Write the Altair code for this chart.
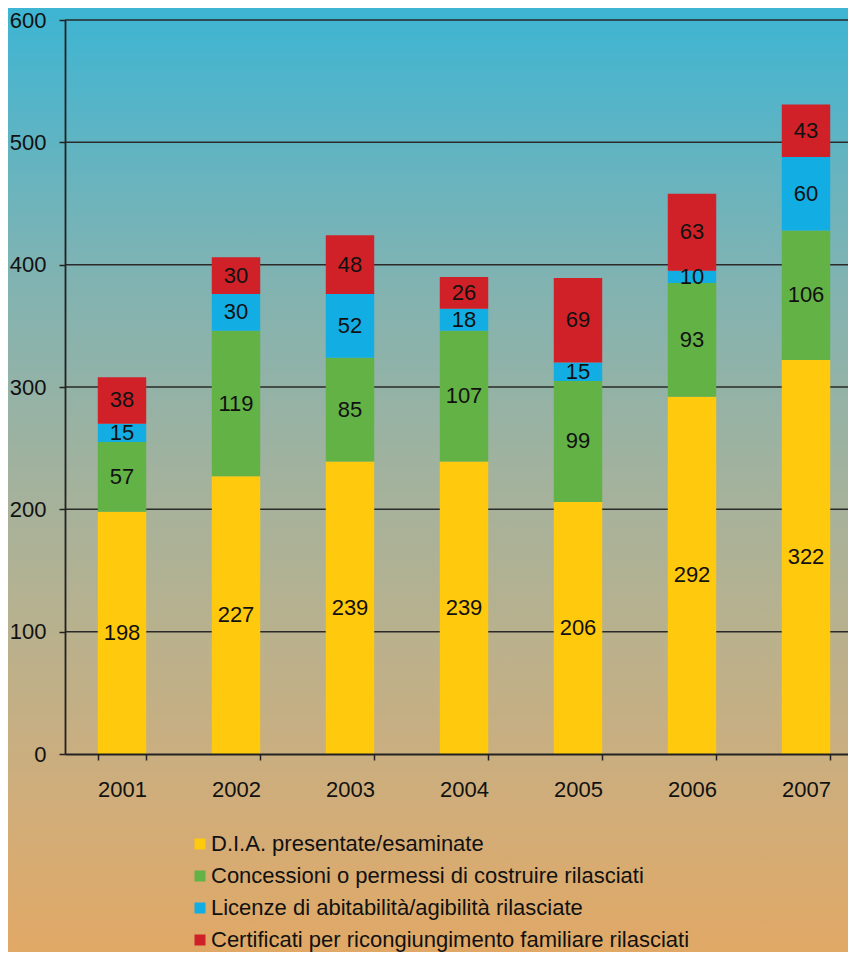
import altair as alt
import pandas as pd

years = ["2001", "2002", "2003", "2004", "2005", "2006", "2007"]
series = [
    "D.I.A. presentate/esaminate",
    "Concessioni o permessi di costruire rilasciati",
    "Licenze di abitabilità/agibilità rilasciate",
    "Certificati per ricongiungimento familiare rilasciati",
]
dia = [198, 227, 239, 239, 206, 292, 322]
concessioni = [57, 119, 85, 107, 99, 93, 106]
licenze = [15, 30, 52, 18, 15, 10, 60]
certificati = [38, 30, 48, 26, 69, 63, 43]
colors = ["#ffc90d", "#63b246", "#12ade3", "#d02128"]
y_ticks = [0, 100, 200, 300, 400, 500, 600]
grid_vals = [100, 200, 300, 400, 500, 600]

rows = []
for si, vals in enumerate([dia, concessioni, licenze, certificati]):
    for y, v in zip(years, vals):
        rows.append({"year": y, "series": series[si], "order": si, "value": v})
df = pd.DataFrame(rows)

W, H = 783, 734
XR = 798
FONT = "Liberation Sans"
FS = 22

xscale = alt.Scale(domain=years, range=[0, XR], paddingInner=0.575, paddingOuter=0.2875)
yscale = alt.Scale(domain=[0, 600], nice=False)

gradient = alt.LinearGradient(
    gradient="linear",
    x1=0, y1=0, x2=0, y2=1,
    stops=[
        alt.GradientStop(offset=0.0, color="#3bb5d4"),
        alt.GradientStop(offset=0.27, color="#7db3b4"),
        alt.GradientStop(offset=0.5, color="#a3b29d"),
        alt.GradientStop(offset=0.65, color="#b8b18e"),
        alt.GradientStop(offset=0.83, color="#d0ad7a"),
        alt.GradientStop(offset=1.0, color="#e2a864"),
    ],
)

bg = alt.Chart(alt.Data(values=[{"a": 1}])).mark_rect(fill=gradient).encode(
    x=alt.value(-60), x2=alt.value(W + 20), y=alt.value(-20), y2=alt.value(H + 210)
)

grid = alt.Chart(pd.DataFrame({"v": grid_vals})).mark_rule(
    color="#2a2a2a", strokeWidth=1.5
).encode(y=alt.Y("v:Q", scale=yscale))

bars = alt.Chart(df).mark_bar().encode(
    x=alt.X(
        "year:N",
        scale=xscale,
        title=None,
        axis=alt.Axis(
            labelAngle=0, labelFontSize=FS, labelFont=FONT, labelColor="#111",
            tickBand="extent", tickSize=6, tickColor="#222", tickWidth=1.5,
            domainColor="#222", domainWidth=1.8, labelPadding=19, zindex=1,
        ),
    ),
    y=alt.Y(
        "value:Q",
        stack="zero",
        scale=yscale,
        title=None,
        axis=alt.Axis(
            values=y_ticks, grid=False, labelFontSize=FS, labelFont=FONT,
            labelColor="#111", tickSize=6, tickColor="#222", tickWidth=1.5,
            domainColor="#222", domainWidth=1.8, labelPadding=13, zindex=1,
        ),
    ),
    color=alt.Color(
        "series:N",
        scale=alt.Scale(domain=series, range=colors),
        legend=alt.Legend(
            title=None, orient="none", legendX=124, legendY=813, zindex=1,
            symbolType="square", symbolSize=121, symbolStrokeWidth=0,
            labelFontSize=FS, labelFont=FONT, labelColor="#111",
            labelOffset=0, rowPadding=10, padding=0, labelLimit=700,
        ),
    ),
    order=alt.Order("order:Q"),
)

labels = alt.Chart(df).transform_stack(
    stack="value", groupby=["year"], sort=[alt.SortField("order")], as_=["y0", "y1"]
).transform_calculate(mid="(datum.y0 + datum.y1) / 2").mark_text(
    fontSize=FS, font=FONT, color="#111", baseline="middle"
).encode(
    x=alt.X("year:N", scale=xscale),
    y=alt.Y("mid:Q", scale=yscale),
    text=alt.Text("value:Q"),
)

chart = alt.layer(bg, grid, bars, labels).properties(
    width=W,
    height=H,
    autosize=alt.AutoSizeParams(type="none"),
    padding={"left": 57, "top": 12, "right": 0, "bottom": 198},
).configure_view(stroke=None)

chart.save("out.html", embed_options={"renderer": "svg", "actions": False})
